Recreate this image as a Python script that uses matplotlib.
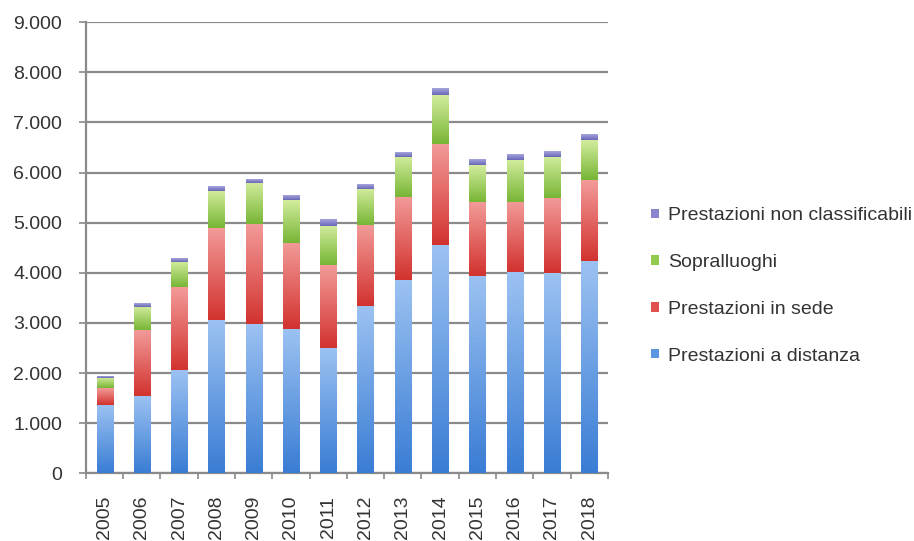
import numpy as np
import matplotlib.pyplot as plt
from matplotlib.colors import LinearSegmentedColormap
from matplotlib.ticker import FuncFormatter, FixedLocator

plt.rcParams['font.family'] = ['Liberation Sans', 'DejaVu Sans']

anni = ['2005', '2006', '2007', '2008', '2009', '2010', '2011',
        '2012', '2013', '2014', '2015', '2016', '2017', '2018']
a_distanza = [1370, 1550, 2060, 3060, 2980, 2880, 2500,
              3340, 3850, 4560, 3940, 4010, 3990, 4240]
in_sede = [330, 1310, 1655, 1830, 1990, 1720, 1650,
           1610, 1660, 2020, 1475, 1405, 1500, 1610]
sopralluoghi = [200, 460, 505, 740, 820, 850, 780,
                720, 810, 960, 730, 845, 820, 790]
non_classificabili = [30, 60, 70, 80, 60, 80, 130,
                      80, 90, 130, 100, 105, 100, 100]

serie = [
    ('Prestazioni a distanza', a_distanza, '#9cc2f2', '#3a7dd4', '#5b95e0'),
    ('Prestazioni in sede', in_sede, '#f29a98', '#d2332f', '#e0504c'),
    ('Sopralluoghi', sopralluoghi, '#d2ec9c', '#78b636', '#92c94e'),
    ('Prestazioni non classificabili', non_classificabili, '#a4a4dc', '#6a68b8', '#8a84cc'),
]

fig = plt.figure(figsize=(9.14, 5.41), dpi=100)
ax = fig.add_axes([0.094, 0.125, 0.571, 0.834])

x = np.arange(len(anni))
base = np.zeros(len(anni))
handles = []
for nome, valori, chiaro, scuro, medio in serie:
    bars = ax.bar(x, valori, width=0.43, bottom=base, color=medio,
                  label=nome, zorder=2)
    # vertical gradient: light at the top of each segment, dark at the bottom
    cmap = LinearSegmentedColormap.from_list(nome, [scuro, chiaro])
    grad = np.linspace(0, 1, 64).reshape(-1, 1)
    for b in bars:
        x0, y0, w, h = b.get_x(), b.get_y(), b.get_width(), b.get_height()
        ax.imshow(grad, cmap=cmap, origin='lower', aspect='auto',
                  extent=[x0, x0 + w, y0, y0 + h], zorder=3)
    handles.append(bars)
    base = base + np.array(valori)

ax.set_xlim(-0.5, len(anni) - 0.5)
ax.set_ylim(0, 9000)
ax.set_yticks(np.arange(0, 9001, 1000))
ax.yaxis.set_major_formatter(FuncFormatter(lambda v, p: f'{int(v):,}'.replace(',', '.')))
ax.grid(axis='y', color='#8a8a8a', linewidth=1.6, zorder=1)

ax.set_xticks(x)
ax.set_xticklabels(anni, rotation=90)
ax.xaxis.set_minor_locator(FixedLocator(np.arange(-0.5, len(anni), 1)))
ax.tick_params(axis='x', which='major', length=0, pad=16, labelsize=14, colors='#333333')
ax.tick_params(axis='x', which='minor', length=4, width=1.2, color='#8a8a8a')
ax.tick_params(axis='y', length=5, width=1.2, color='#8a8a8a', labelsize=14,
               labelcolor='#333333', pad=12)

for s in ['top', 'right']:
    ax.spines[s].set_visible(False)
ax.spines['left'].set_color('#8a8a8a')
ax.spines['left'].set_linewidth(1.6)
ax.spines['bottom'].set_color('#8a8a8a')
ax.spines['bottom'].set_linewidth(1.6)

leg = fig.legend(handles[::-1], [s[0] for s in serie][::-1],
                 loc='upper left', bbox_to_anchor=(0.704, 0.631),
                 frameon=False, fontsize=14, handlelength=0.38, handleheight=0.38,
                 handletextpad=0.5, labelspacing=1.53, borderaxespad=0)
for t in leg.get_texts():
    t.set_color('#333333')

fig.savefig('out.png', dpi=100)
